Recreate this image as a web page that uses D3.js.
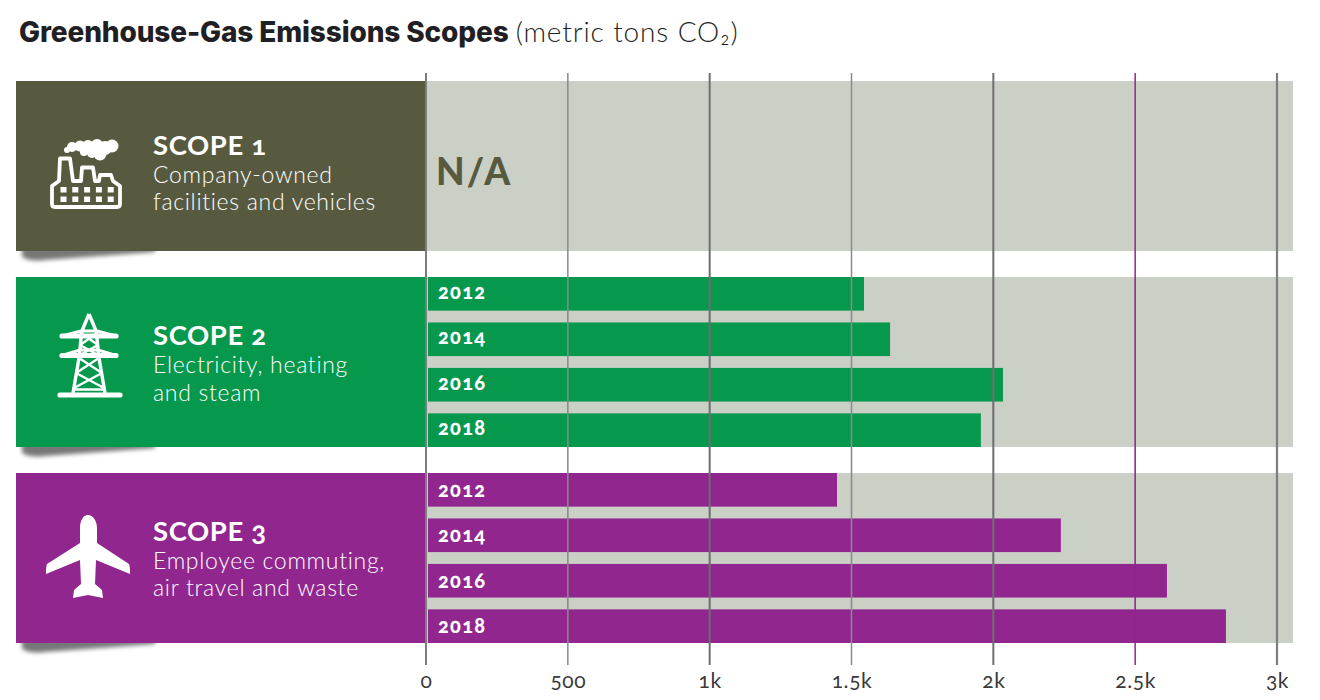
<!DOCTYPE html>
<html><head><meta charset="utf-8">
<script src="https://cdn.jsdelivr.net/npm/d3@7/dist/d3.min.js"></script>
<style>
html,body{margin:0;padding:0;background:#fff;}
svg{display:block;}
text{font-family:Lato,"Open Sans",sans-serif;font-variant-numeric:oldstyle-nums;}
</style></head><body>
<div id="chart"></div>
<script>
const scopeNames = ["SCOPE 1","SCOPE 2","SCOPE 3"];
const scopeLine1 = ["Company-owned","Electricity, heating","Employee commuting,"];
const scopeLine2 = ["facilities and vehicles","and steam","air travel and waste"];
const scopeColors = ["#585a40","#06984c","#91268f"];
const years = ["2012","2014","2016","2018"];
const scope2Values = [1544,1636,2034,1956];
const scope3Values = [1449,2238,2612,2820];
const tickValues = [0,500,1000,1500,2000,2500,3000];
const tickLabels = ["0","500","1k","1.5k","2k","2.5k","3k"];
const tickColors = ["#7d7d7d","#8a8a8a","#6f6f6f","#8a8a8a","#6f6f6f","#91268f","#7d7d7d"];
const tickWidths = [2,1.5,2,1.5,2,1.5,2.2];

const W=1320,H=700;
const svg=d3.select("#chart").append("svg").attr("width",W).attr("height",H);
const defs=svg.append("defs");
defs.append("filter").attr("id","blur").attr("x","-10%").attr("y","-100%").attr("width","120%").attr("height","300%")
  .append("feGaussianBlur").attr("stdDeviation",2);

const x=d3.scaleLinear().domain([0,3000]).range([426,1277]);
const yBand=d3.scaleOrdinal().domain(scopeNames).range([81,277,473]);
const bandH=170;
const yBar=d3.scaleBand().domain(years).range([0,bandH]).paddingInner(0.26).paddingOuter(0);

// title
const title=svg.append("text").attr("x",19).attr("y",42).attr("fill","#1f1f24");
title.append("tspan").attr("font-size",28).attr("font-weight",800).attr("letter-spacing",-0.13).style("font-family","Inter").text("Greenhouse-Gas Emissions Scopes");
title.append("tspan").attr("font-size",28).attr("font-weight",300).attr("dx",7).attr("letter-spacing",0.88).text("(metric tons CO₂)");

// panels
const rows=svg.selectAll("g.row").data(scopeNames).join("g").attr("class","row")
  .attr("transform",d=>`translate(0,${yBand(d)})`);
rows.append("path").attr("d",`M22,${bandH-4} L22,${bandH+6} Q30,${bandH+11} 45,${bandH+9} L155,${bandH+1} L155,${bandH-4} Z`)
  .attr("fill","#777").attr("filter","url(#blur)");
rows.append("rect").attr("x",425).attr("width",1293-425).attr("height",bandH).attr("fill","#cbd0c7");
rows.append("rect").attr("x",16).attr("width",409).attr("height",bandH).attr("fill",(d,i)=>scopeColors[i]);

// gridlines
svg.selectAll("line.grid").data(tickValues).join("line").attr("class","grid")
  .attr("x1",d=>x(d)).attr("x2",d=>x(d)).attr("y1",73).attr("y2",665)
  .attr("stroke",(d,i)=>tickColors[i]).attr("stroke-width",(d,i)=>tickWidths[i]);

// bars
const bars=[null,scope2Values,scope3Values];
const yearShift=[0,-2,0];
rows.each(function(d,i){
  if(!bars[i])return;
  const g=d3.select(this);
  const b=g.selectAll("g.bar").data(years.map((yr,k)=>({yr,v:bars[i][k]}))).join("g").attr("class","bar");
  b.append("rect").attr("x",x(0)+2).attr("y",e=>yBar(e.yr)).attr("height",yBar.bandwidth())
    .attr("width",e=>x(e.v)-x(0)-2).attr("fill",scopeColors[i]);
  b.append("text").attr("x",438).attr("y",e=>yBar(e.yr)+yBar.bandwidth()/2+7+yearShift[i])
    .attr("font-size",20).attr("font-weight",900).attr("fill","#fff").attr("letter-spacing",1.3).text(e=>e.yr);
});

// faint gridlines showing through the bars
svg.selectAll("line.over").data(tickValues.slice(1)).join("line").attr("class","over")
  .attr("x1",d=>x(d)).attr("x2",d=>x(d)).attr("y1",277).attr("y2",643)
  .attr("stroke",(d,i)=>tickColors[i+1]).attr("stroke-width",1.5).attr("stroke-opacity",0.18);

// N/A
svg.append("text").attr("x",436).attr("y",185).attr("font-size",37).attr("font-weight",900)
  .attr("fill",scopeColors[0]).attr("letter-spacing",2.2).text("N/A");

// labels
const l1Y=[102,96,96],l2Y=[129,124,123];
rows.append("text").attr("x",153).attr("y",(d,i)=>[74,68,68][i]).attr("font-size",27.5).attr("font-weight",700)
  .attr("fill","#fff").attr("letter-spacing",0.6).text(d=>d);
rows.append("text").attr("x",153).attr("y",(d,i)=>l1Y[i]).attr("font-size",23).attr("font-weight",300)
  .attr("fill","#fff").attr("letter-spacing",0.7).text((d,i)=>scopeLine1[i]);
rows.append("text").attr("x",153).attr("y",(d,i)=>l2Y[i]).attr("font-size",23).attr("font-weight",300)
  .attr("fill","#fff").attr("letter-spacing",0.7).text((d,i)=>scopeLine2[i]);

// axis labels
const axis=d3.axisBottom(x).tickValues(tickValues).tickFormat((d,i)=>tickLabels[i]).tickSize(0).tickPadding(0);
const ax=svg.append("g").attr("transform","translate(0,673)").call(axis);
ax.select(".domain").remove();
ax.selectAll("text").attr("font-size",21).attr("font-weight",400).attr("fill","#3a3a3a").attr("letter-spacing",0.6)
  .style("font-family","Lato,sans-serif");

// factory icon
const f=svg.append("g").attr("fill","none").attr("stroke","#fff").attr("stroke-width",3.8).attr("stroke-linejoin","round");
f.append("path").attr("d","M52,186 L59,181 L60,158.5 L70,158.5 L73,181 L81,181 L82,167.5 L93,167.5 L95,181 L99,181 L100,175 L111,175 L113,181 L120,186 L120,204 Q120,207 117,207 L55,207 Q52,207 52,204 Z");
const fw=svg.append("g").attr("fill","#fff");
[0,1].forEach(r=>[0,1,2,3,4].forEach(c=>fw.append("rect").attr("x",60.5+c*11.8).attr("y",187+r*9.5).attr("width",6).attr("height",5.5)));
[[67,150,3],[72,147,5],[80,146,5.5],[88,146,6],[97,145,6],[105,148,7],[112,146,6.5],[100,154,6.5],[92,153,5],[84,152,4]].forEach(p=>fw.append("circle").attr("cx",p[0]).attr("cy",p[1]).attr("r",p[2]));

// tower icon
const t=svg.append("g").attr("fill","none").attr("stroke","#fff").attr("stroke-width",2.4).attr("stroke-linejoin","round");
t.append("path").attr("stroke-width",3.4).attr("d","M89,314 L81.5,332 L79.5,355 L73,393 M89,314 L96.5,332 L98.5,355 L105,393");
t.append("path").attr("stroke-width",5.2).attr("stroke-linecap","round").attr("d","M62,336 L116,336 M62,355.5 L116,355.5 M60,395 L120,395");
t.append("path").attr("stroke-width",3).attr("d","M62,336 L81,331 L97,331 L116,336 M62,355.5 L80,350 L98,350 L116,355.5");
t.append("path").attr("d","M81,333 L98,345 M97,333 L80,345 M80,345 L98,355 M98,345 L80,355 M79,358 L102,373 M99,358 L76,373 M76,373 L104,388 M102,373 L74,388 M73,389.5 L105,389.5");

// plane icon
svg.append("path").attr("fill","#fff").attr("d","M88,515 C83,515 80,521 80,528 L80,543 L47,564 Q46,566 46,574 L80,560 L81,584 L74,590 L73,598 L88,595 L103,598 L102,590 L95,584 L96,560 L130,574 Q130,566 129,564 L97,543 L97,528 C97,521 93,515 88,515 Z");
</script>
</body></html>
